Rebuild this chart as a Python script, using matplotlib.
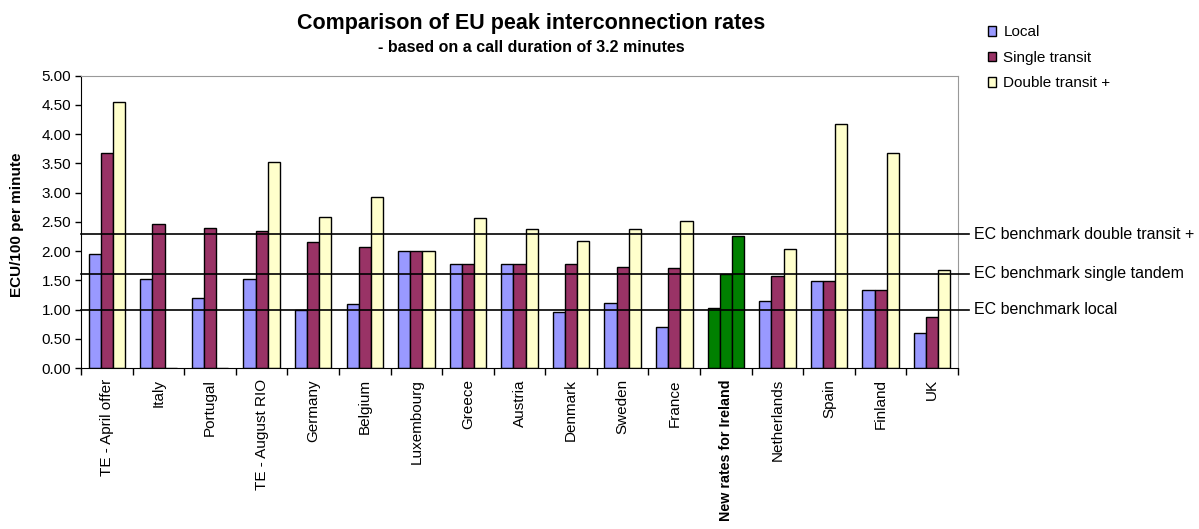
import numpy as np
import matplotlib.pyplot as plt
from matplotlib.transforms import blended_transform_factory

plt.rcParams['font.family'] = ['Liberation Sans', 'DejaVu Sans']

# Data (ECU/100 per minute)
countries = ['TE - April offer', 'Italy', 'Portugal', 'TE - August RIO', 'Germany',
             'Belgium', 'Luxembourg', 'Greece', 'Austria', 'Denmark', 'Sweden',
             'France', 'New rates for Ireland', 'Netherlands', 'Spain', 'Finland', 'UK']
local = [1.95, 1.52, 1.19, 1.52, 1.00, 1.09, 2.00, 1.78, 1.78, 0.95, 1.12,
         0.71, 1.02, 1.15, 1.49, 1.34, 0.60]
single = [3.67, 2.47, 2.40, 2.35, 2.15, 2.07, 2.00, 1.78, 1.78, 1.78, 1.73,
          1.71, 1.61, 1.57, 1.49, 1.34, 0.88]
double = [4.55, np.nan, np.nan, 3.53, 2.59, 2.92, 2.00, 2.57, 2.37, 2.18, 2.37,
          2.52, 2.25, 2.03, 4.17, 3.68, 1.68]
benchmarks = [2.29, 1.61, 1.00]
benchmark_labels = ['EC benchmark double transit +', 'EC benchmark single tandem',
                    'EC benchmark local']
highlight = 'New rates for Ireland'

c_local = '#9999FF'
c_single = '#993366'
c_double = '#FFFFCC'
c_green = '#008000'

fig = plt.figure(figsize=(11.99, 5.29), dpi=100)
ax = fig.add_axes([0.0676, 0.3043, 0.7314, 0.5527])

x = np.arange(len(countries))
w = 0.236
hi = countries.index(highlight)
col_l = [c_green if i == hi else c_local for i in x]
col_s = [c_green if i == hi else c_single for i in x]
col_d = [c_green if i == hi else c_double for i in x]

ax.bar(x - w, local, w, color=col_l, edgecolor='black', linewidth=1, label='Local', zorder=2)
ax.bar(x, single, w, color=col_s, edgecolor='black', linewidth=1, label='Single transit', zorder=2)
ax.bar(x + w, np.nan_to_num(double), w, color=col_d, edgecolor='black', linewidth=1,
       label='Double transit +', zorder=2)

trans = blended_transform_factory(ax.transAxes, ax.transData)
for b, lab in zip(benchmarks, benchmark_labels):
    ax.plot([0, 1.0125], [b, b], transform=trans, color='black', lw=1.2,
            clip_on=False, zorder=3)
    ax.text(1.018, b, lab, transform=trans, va='center', ha='left', fontsize=11.5)

ax.set_xlim(-0.5, len(countries) - 0.5)
ax.set_ylim(0, 5)
ax.set_yticks(np.arange(0, 5.01, 0.5))
ax.set_yticklabels([f'{v:.2f}' for v in np.arange(0, 5.01, 0.5)], fontsize=11)
ax.set_xticks(x)
ax.set_xticklabels(countries, rotation=90, fontsize=11)
for t in ax.get_xticklabels():
    if t.get_text() == highlight:
        t.set_fontweight('bold')
        t.set_fontsize(10.3)
ax.set_xticks(np.arange(-0.5, len(countries)), minor=True)
ax.tick_params(axis='x', which='major', length=0, pad=8)
ax.tick_params(axis='x', which='minor', length=5, direction='out', width=1)
ax.tick_params(axis='y', length=4, direction='out', width=1, pad=3)
ax.set_ylabel('ECU/100 per minute', fontsize=11, fontweight='bold')
ax.yaxis.set_label_coords(-0.065, 0.49)

for s in ['top', 'right']:
    ax.spines[s].set_color('#999999')
for s in ['left', 'bottom']:
    ax.spines[s].set_color('black')

fig.text(0.443, 0.956, 'Comparison of EU peak interconnection rates', ha='center',
         va='center', fontsize=15.5, fontweight='bold')
fig.text(0.443, 0.910, '- based on a call duration of 3.2 minutes', ha='center',
         va='center', fontsize=11.5, fontweight='bold')

fig.legend(loc='upper left', bbox_to_anchor=(0.824, 0.952), frameon=False, fontsize=11,
           handlelength=0.55, handleheight=0.55, handletextpad=0.45, labelspacing=0.75,
           borderpad=0, borderaxespad=0)

fig.savefig('out.png', dpi=100)
